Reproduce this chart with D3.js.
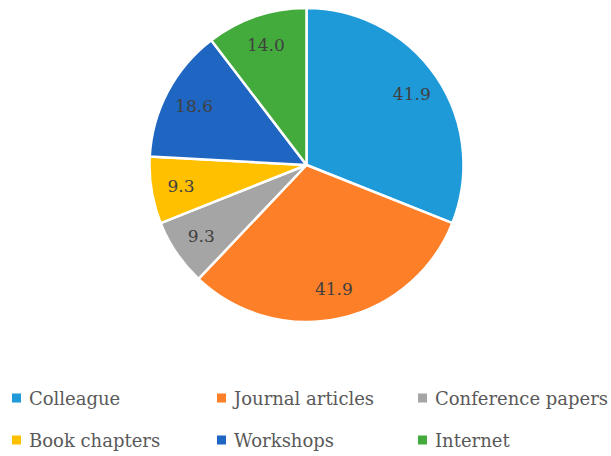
<!DOCTYPE html>
<html><head><meta charset="utf-8">
<script src="https://cdn.jsdelivr.net/npm/d3@7"></script>
<style>html,body{margin:0;padding:0;background:#fff;}</style>
</head><body>
<svg id="chart" width="611" height="456"></svg>
<script>
const categories = ["Colleague","Journal articles","Conference papers","Book chapters","Workshops","Internet"];
const values = [41.9, 41.9, 9.3, 9.3, 18.6, 14.0];
const colors = ["#1f9ad8","#fd7f27","#a5a5a5","#ffc000","#1f66c2","#43ab3c"];
const labels = ["41.9","41.9","9.3","9.3","18.6","14.0"];

const svg = d3.select("#chart");
const cx = 306.5, cy = 165, r = 157;
const font = "'DejaVu Serif', serif";
const data = categories.map((c,i)=>({cat:c, value:values[i], color:colors[i], label:labels[i]}));
const pie = d3.pie().sort(null).value(d=>d.value);
const arc = d3.arc().innerRadius(0).outerRadius(r);
const labelArc = d3.arc().innerRadius(r*0.81).outerRadius(r*0.81);
const g = svg.append("g").attr("transform",`translate(${cx},${cy})`);
const arcs = pie(data);
g.selectAll("path").data(arcs).join("path")
  .attr("d",arc).attr("fill",d=>d.data.color)
  .attr("stroke","#fff").attr("stroke-width",2.5).attr("stroke-linejoin","round");
g.selectAll("text").data(arcs).join("text")
  .attr("transform",d=>`translate(${labelArc.centroid(d)})`)
  .attr("text-anchor","middle").attr("dominant-baseline","central")
  .attr("font-family",font).attr("font-size",17).attr("fill","#404040")
  .text(d=>d.data.label);

const legX = [12, 217, 418];
const legY = [398, 440];
const leg = svg.append("g");
data.forEach((d,i)=>{
  const x = legX[i%3], y = legY[Math.floor(i/3)];
  leg.append("rect").attr("x",x).attr("y",y-4.5).attr("width",9).attr("height",9).attr("fill",d.color);
  leg.append("text").attr("x",x+17).attr("y",y).attr("dominant-baseline","central")
    .attr("font-family",font).attr("font-size",18).attr("fill","#595959").text(d.cat);
});
</script>
</body></html>
